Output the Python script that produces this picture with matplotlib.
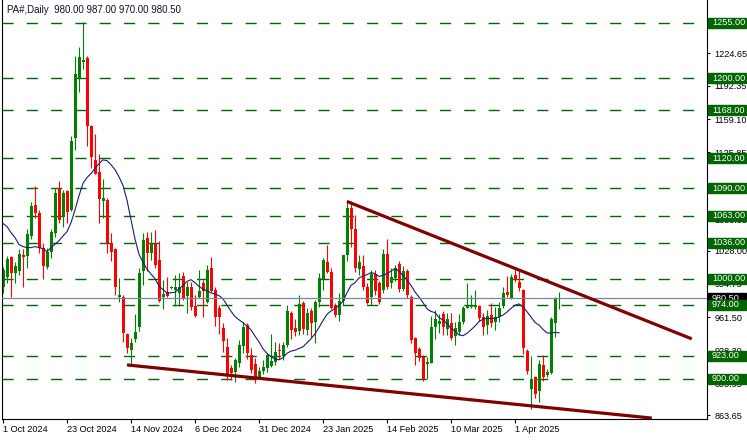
import numpy as np
import pandas as pd
import matplotlib
matplotlib.use("Agg")
import matplotlib.pyplot as plt
from matplotlib.patches import Rectangle
from matplotlib.transforms import blended_transform_factory

# daily OHLC, 1 Oct 2024 .. 16 Apr 2025
opens = [992, 1002, 1022, 1006, 1008, 1024, 1023, 1043, 1073, 1066,
         1031, 1012, 1027, 1046, 1089, 1062, 1087, 1069, 1140, 1200,
         1216, 1220, 1152, 1118, 1106, 1077, 1078, 1036, 1030, 982,
         982, 945, 929, 940, 952, 1008, 1041, 1026, 1035, 1019,
         982, 987, 991, 989, 986, 1003, 983, 992, 973, 982,
         996, 977, 1011, 989, 971, 951, 932, 911, 907, 916,
         933, 954, 924, 915, 902, 908, 911, 913, 917, 929,
         923, 934, 966, 951, 948, 976, 949, 968, 957, 977,
         1000, 1017, 1007, 974, 964, 978, 1024, 1070, 1050, 1010,
         1013, 992, 982, 1005, 996, 989, 1025, 996, 1001, 1015,
         990, 1008, 982, 941, 930, 922, 915, 916, 952, 955,
         965, 950, 956, 943, 947, 957, 971, 972, 972, 973,
         962, 954, 964, 957, 962, 973, 987, 981, 1004, 997,
         989, 928, 890, 902, 888, 914, 904, 906, 956, 980]
highs = [1012, 1023, 1023, 1017, 1030, 1030, 1050, 1076, 1092, 1069,
         1036, 1031, 1050, 1090, 1097, 1088, 1088, 1142, 1222, 1231,
         1256, 1222, 1153, 1144, 1124, 1099, 1080, 1046, 1031, 1001,
         984, 946, 941, 965, 1011, 1046, 1047, 1047, 1049, 1038,
         999, 1002, 993, 1004, 1006, 1007, 997, 997, 984, 1009,
         999, 1014, 1022, 992, 974, 956, 941, 914, 921, 939,
         957, 956, 931, 921, 912, 919, 926, 945, 937, 936,
         937, 974, 968, 960, 984, 978, 971, 971, 979, 1006,
         1021, 1034, 1011, 976, 986, 1024, 1078, 1077, 1064, 1024,
         1024, 996, 1009, 1009, 998, 1030, 1040, 1011, 1014, 1018,
         1013, 1010, 984, 942, 932, 924, 922, 963, 969, 965,
         968, 966, 966, 957, 965, 973, 996, 984, 989, 974,
         966, 969, 976, 972, 977, 992, 1003, 1005, 1012, 1009,
         990, 930, 923, 903, 919, 924, 910, 962, 982, 987]
lows = [986, 996, 982, 996, 1004, 992, 1011, 1040, 1061, 1026,
        1000, 1010, 1021, 1042, 1056, 1052, 1056, 1068, 1128, 1186,
        1209, 1132, 1110, 1104, 1056, 1061, 1026, 1018, 984, 977,
        937, 926, 914, 937, 948, 994, 1008, 1019, 1011, 977,
        970, 982, 990, 973, 973, 979, 966, 969, 962, 981,
        962, 976, 987, 953, 945, 927, 899, 899, 897, 912,
        926, 920, 906, 896, 900, 905, 907, 912, 914, 920,
        919, 932, 940, 943, 944, 945, 944, 942, 936, 972,
        989, 1006, 970, 962, 958, 974, 1018, 1032, 1007, 1004,
        989, 975, 974, 984, 975, 986, 990, 991, 998, 987,
        988, 981, 936, 914, 918, 898, 900, 916, 940, 946,
        944, 944, 939, 934, 944, 955, 971, 971, 970, 958,
        944, 945, 952, 949, 957, 971, 982, 980, 997, 988,
        925, 905, 870, 881, 877, 898, 902, 905, 942, 970]
closes = [1009, 1020, 1006, 1013, 1025, 1022, 1045, 1072, 1066, 1031,
          1013, 1027, 1047, 1085, 1059, 1085, 1067, 1137, 1204, 1221,
          1218, 1152, 1121, 1104, 1079, 1080, 1036, 1027, 992, 984,
          946, 931, 936, 947, 1006, 1039, 1026, 1036, 1014, 978,
          985, 983, 992, 992, 992, 980, 992, 972, 963, 988,
          988, 1009, 988, 962, 962, 938, 905, 906, 919, 934,
          952, 926, 909, 900, 908, 912, 924, 918, 927, 928,
          934, 968, 949, 947, 975, 950, 966, 956, 977, 1001,
          1019, 1007, 971, 964, 978, 1024, 1070, 1050, 1011, 1017,
          992, 976, 1005, 988, 977, 1025, 992, 1002, 1011, 990,
          1008, 984, 939, 926, 921, 899, 917, 952, 960, 958,
          952, 960, 941, 951, 957, 971, 973, 974, 974, 961,
          952, 963, 956, 962, 971, 986, 984, 1002, 999, 991,
          931, 908, 900, 885, 915, 902, 907, 960, 980, 980.5]

# MA(14) values before enough history is on the chart
ma_head = [1055, 1052, 1046, 1041, 1034, 1032, 1031, 1031, 1032, 1031, 1030, 1027, 1031]

levels = [1255, 1200, 1168, 1120, 1090, 1063, 1036, 1000, 974, 923, 900]
scale_ticks = [1224.65, 1192.35, 1159.10, 1125.85, 1059.35, 1028.00,
               994.75, 961.50, 928.30, 895.95, 863.65]
last_price = 980.50

date_bars = [0, 16, 32, 48, 64, 80, 96, 112, 128]
date_labels = ["1 Oct 2024", "23 Oct 2024", "14 Nov 2024", "6 Dec 2024",
               "31 Dec 2024", "23 Jan 2025", "14 Feb 2025", "10 Mar 2025",
               "1 Apr 2025"]

upper_trend_x = [86, 172.2]
upper_trend_y = [1077, 940]
lower_trend_x = [31, 162.2]
lower_trend_y = [914, 861]

plt.rcParams['font.family'] = ['Liberation Sans', 'DejaVu Sans']
plt.rcParams['lines.scale_dashes'] = False

df = pd.DataFrame({"o": opens, "h": highs, "l": lows, "c": closes})
df["ma"] = df["c"].rolling(14).mean()
df.loc[:len(ma_head) - 1, "ma"] = ma_head
x = np.arange(len(df))

W, H = 747, 440
fig = plt.figure(figsize=(W / 100, H / 100), dpi=100)
ax = fig.add_axes([2 / W, 21 / H, 705 / W, 419 / H])

lvl_green = "#006400"
for lv in levels:
    ax.axhline(lv, color=lvl_green, lw=1.0, dashes=(8, 9.5), zorder=1)

up = df["c"] >= df["o"]
col = np.where(up, "#008000", "#ff0000")
ax.vlines(x, df["l"], df["h"], colors=col, lw=0.8, zorder=2)
body = np.maximum((df["c"] - df["o"]).abs(), 1.0)
ax.bar(x, body, bottom=np.minimum(df["o"], df["c"]), width=0.75,
       color=col, linewidth=0, zorder=2)

ax.plot(x, df["ma"], color="#1c1c6e", lw=0.8, zorder=3)
ax.axhline(last_price, color="#778899", lw=0.9, zorder=3)

ax.plot(upper_trend_x, upper_trend_y, color="#800000", lw=2.3,
        solid_capstyle="butt", zorder=4)
ax.plot(lower_trend_x, lower_trend_y, color="#800000", lw=2.3,
        solid_capstyle="butt", zorder=4)

ax.set_xlim(-0.25, 176)
ax.set_ylim(860.1, 1277.9)

for s in ["left", "right", "bottom"]:
    ax.spines[s].set_color("black")
    ax.spines[s].set_linewidth(0.8)
ax.spines["top"].set_visible(False)

ax.yaxis.tick_right()
ax.set_yticks(scale_ticks)
ax.set_yticklabels(["%.2f" % v for v in scale_ticks])
ax.tick_params(axis="y", length=2.5, pad=3, labelsize=6.6, width=0.8)
ax.set_xticks(date_bars)
ax.set_xticklabels(date_labels, ha="left")
ax.tick_params(axis="x", length=3, pad=1.5, labelsize=6.6, width=0.8)

# price label boxes on the right scale
tr = blended_transform_factory(fig.transFigure, ax.transData)
ax.add_patch(Rectangle((708 / W, last_price - 5), 38 / W, 10, transform=tr,
                       color="black", clip_on=False, zorder=5))
ax.text(712 / W, last_price, "%.2f" % last_price, transform=tr, color="white",
        fontsize=6.6, va="center", ha="left", clip_on=False, zorder=6)
for lv in levels:
    ax.add_patch(Rectangle((708 / W, lv - 5), 38 / W, 10, transform=tr,
                           color=lvl_green, clip_on=False, zorder=7))
    ax.text(712 / W, lv, "%.2f" % lv, transform=tr, color="white",
            fontsize=6.6, va="center", ha="left", clip_on=False, zorder=8)

fig.text(7 / W, 1 - 10 / H, "PA#,Daily  980.00 987.00 970.00 980.50",
         fontsize=7, va="center", ha="left", color="#101030")

plt.savefig("out.png", dpi=100)
